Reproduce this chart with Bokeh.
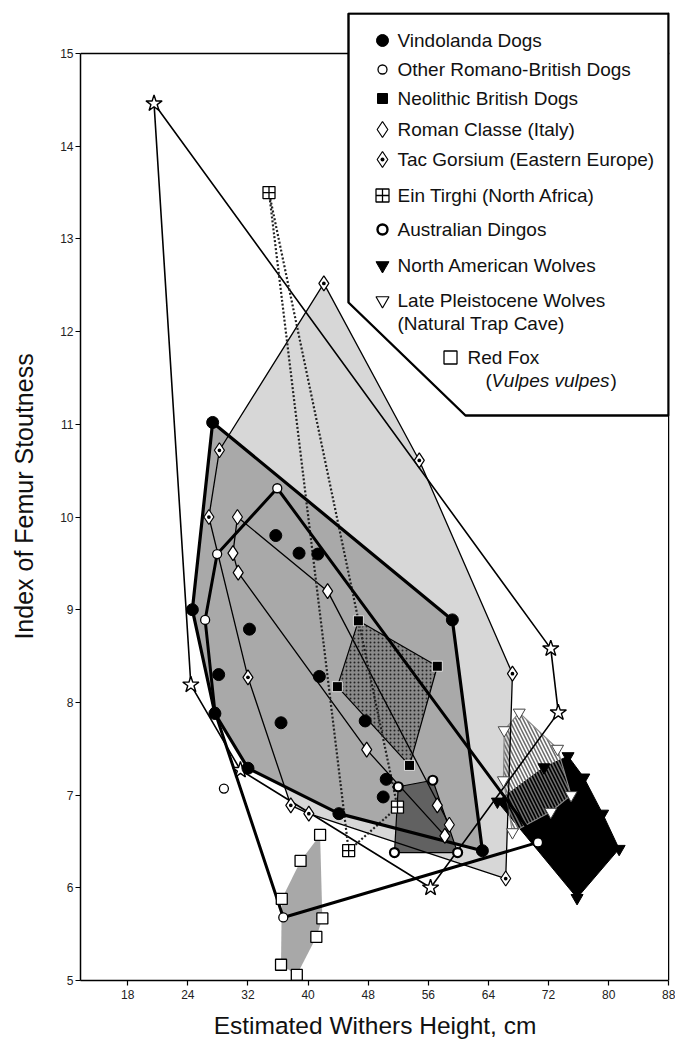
import numpy as np
from bokeh.plotting import figure
from bokeh.models import FixedTicker, Span, Range1d
from bokeh.core.properties import value
from bokeh.embed import file_html
from bokeh.resources import INLINE

# ---------------- data ----------------
vindolanda_x = [27.3, 24.6, 28.1, 27.6, 32.0, 44.1, 63.2, 59.2, 35.7, 38.8, 41.3, 32.2, 41.5, 36.4, 47.6, 50.4, 50.0]
vindolanda_y = [11.02, 9.00, 8.30, 7.88, 7.29, 6.80, 6.40, 8.89, 9.80, 9.61, 9.60, 8.79, 8.28, 7.78, 7.80, 7.17, 6.98]

other_rb_x = [35.9, 27.9, 26.3, 27.6, 36.7, 70.6]
other_rb_y = [10.31, 9.60, 8.89, 7.90, 5.68, 6.49]
other_rb_extra_x = [28.8]
other_rb_extra_y = [7.07]

neolithic_x = [46.7, 57.2, 53.5, 43.9]
neolithic_y = [8.88, 8.39, 7.32, 8.17]

roman_classe_x = [30.6, 30.0, 30.7, 42.6, 47.8, 57.2, 58.8, 58.2]
roman_classe_y = [10.00, 9.61, 9.40, 9.20, 7.49, 6.89, 6.68, 6.56]

tac_x = [28.2, 42.1, 54.8, 67.2, 66.3, 40.1, 37.7, 32.0, 26.8]
tac_y = [10.72, 12.52, 10.61, 8.31, 6.10, 6.80, 6.89, 8.27, 10.00]

ein_x = [34.8, 51.9, 45.4]
ein_y = [13.50, 6.87, 6.40]

dingo_x = [52.0, 56.6, 59.9, 51.5]
dingo_y = [7.09, 7.16, 6.38, 6.38]

na_x = [65.2, 71.4, 74.6, 76.7, 79.2, 81.4, 75.8]
na_y = [6.93, 7.30, 7.42, 7.19, 6.80, 6.42, 5.89]

lp_x = [68.1, 66.1, 66.0, 73.2, 75.0, 72.3, 67.2]
lp_y = [7.89, 7.70, 7.16, 7.50, 7.00, 6.82, 6.60]

fox_x = [41.6, 39.0, 36.5, 41.9, 41.1, 36.4, 38.5]
fox_y = [6.57, 6.29, 5.88, 5.67, 5.47, 5.17, 5.06]

star_x = [19.5, 24.4, 31.0, 56.3, 73.3, 72.3]
star_y = [14.46, 8.19, 7.27, 6.00, 7.89, 8.58]

x_ticks = [16, 24, 32, 40, 48, 56, 64, 72, 80, 88]
x_tick_labels = ["18", "24", "32", "40", "48", "56", "64", "72", "80", "88"]
y_ticks = [5, 6, 7, 8, 9, 10, 11, 12, 13, 14, 15]

legend_labels = ["Vindolanda Dogs", "Other Romano-British Dogs", "Neolithic British Dogs",
                 "Roman Classe (Italy)", "Tac Gorsium (Eastern Europe)", "Ein Tirghi (North Africa)",
                 "Australian Dingos", "North American Wolves", "Late Pleistocene Wolves"]

# ---------------- layout ----------------
OFF = 0  # observed page offset of the figure
W, H = 675, 1042
FL, FR, FT, FB = 80, 669, 12, 980
MBL, MBR, MBT, MBB = FL - OFF, OFF + W - FR, FT - OFF, OFF + H - FB
PX_PER_X = 7.514
X1 = 88.1
X0 = X1 - (FR - FL) / PX_PER_X
Y0 = 5.0
Y1 = Y0 + (FB - FT) / 92.7


def sx(px):
    return X0 + (px - FL) * (X1 - X0) / (FR - FL)


def sy(py):
    return Y0 + (FB - py) * (Y1 - Y0) / (FB - FT)


def hull(xs, ys):
    pts = sorted(set(zip(xs, ys)))

    def cross(o, a, b):
        return (a[0] - o[0]) * (b[1] - o[1]) - (a[1] - o[1]) * (b[0] - o[0])
    lower, upper = [], []
    for q in pts:
        while len(lower) >= 2 and cross(lower[-2], lower[-1], q) <= 0:
            lower.pop()
        lower.append(q)
    for q in reversed(pts):
        while len(upper) >= 2 and cross(upper[-2], upper[-1], q) <= 0:
            upper.pop()
        upper.append(q)
    h = lower[:-1] + upper[:-1]
    return [q[0] for q in h], [q[1] for q in h]


p = figure(width=W, height=H, x_range=Range1d(X0, X1), y_range=Range1d(Y0, Y1),
           output_backend="svg", toolbar_location=None,
           min_border_left=MBL, min_border_right=MBR, min_border_top=MBT, min_border_bottom=MBB,
           outline_line_color=None, background_fill_color="white", border_fill_color="white")
p.grid.visible = False

# axes
p.xaxis.ticker = FixedTicker(ticks=x_ticks)
p.xaxis.major_label_overrides = {t: l for t, l in zip(x_ticks, x_tick_labels)}
p.yaxis.ticker = FixedTicker(ticks=y_ticks)
p.yaxis.bounds = (5, 15)
p.xaxis.bounds = (X0, 88)
for ax in (p.xaxis[0], p.yaxis[0]):
    ax.axis_line_color = "black"
    ax.axis_line_width = 1.5
    ax.major_tick_line_color = "black"
    ax.major_tick_line_width = 1.2
    ax.major_tick_in = 0
    ax.major_tick_out = 5
    ax.minor_tick_line_color = None
    ax.major_label_text_font = "Liberation Sans"
    ax.major_label_text_font_size = "12px"
    ax.major_label_text_color = "#222222"
    ax.axis_label_text_font = "Liberation Sans"
    ax.axis_label_text_font_style = "normal"
    ax.axis_label_text_color = "#111111"
p.xaxis.axis_label = "Estimated Withers Height, cm"
p.yaxis.axis_label = "Index of Femur Stoutness"
p.xaxis.axis_label_text_font_size = "24.5px"
p.yaxis.axis_label_text_font_size = "25px"
p.xaxis.major_label_standoff = 4
p.yaxis.major_label_standoff = 2
p.xaxis.axis_label_standoff = 10
p.yaxis.axis_label_standoff = 19

# frame lines (top and right)
p.add_layout(Span(location=15, dimension="width", line_color="black", line_width=1.5, level="underlay"))
p.add_layout(Span(location=88, dimension="height", line_color="black", line_width=1.5, level="underlay"))

# ---------------- fills ----------------
tx, ty = hull(tac_x, tac_y)
p.patch(tx, ty, fill_color="#d7d7d7", line_color=None)
vx, vy = hull(vindolanda_x, vindolanda_y)
p.patch(vx, vy, fill_color="#a9a9a9", line_color=None)
fx, fy = hull(fox_x, fox_y)
p.patch(fx, fy, fill_color="#a8a8a8", line_color=None)
dx, dy = hull(dingo_x, dingo_y)
p.patch(dx, dy, fill_color="#616161", line_color="black", line_width=1.2)
nx, ny = hull(neolithic_x, neolithic_y)
p.patch(nx, ny, fill_color="#8a8a8a", hatch_pattern="dot", hatch_color="#222222",
        hatch_scale=4, hatch_weight=1.2, line_color="black", line_width=1.2)
wx, wy = hull(na_x, na_y)
p.patch(wx, wy, fill_color="black", line_color="black", line_width=1)
lx, ly = hull(lp_x, lp_y)
p.patch(lx, ly, fill_alpha=0, hatch_pattern="\\", hatch_color="#6e6e6e",
        hatch_scale=7, hatch_weight=1.6, line_color="#8a8a8a", line_width=1.2)

# ---------------- outlines ----------------
rx, ry = hull(roman_classe_x, roman_classe_y)
p.patch(rx, ry, fill_alpha=0, line_color="black", line_width=1.3)
p.patch(tx, ty, fill_alpha=0, line_color="black", line_width=1.3)
stx, sty = hull(star_x, star_y)
p.patch(stx, sty, fill_alpha=0, line_color="black", line_width=1.6)
ex, ey = hull(ein_x, ein_y)
p.patch(ex, ey, fill_alpha=0, line_color="#222222", line_width=2.2, line_dash="2 2")
ox, oy = hull(other_rb_x, other_rb_y)
p.patch(ox, oy, fill_alpha=0, line_color="black", line_width=3)
p.patch(vx, vy, fill_alpha=0, line_color="black", line_width=3.2)

# ---------------- markers ----------------
p.scatter(fox_x, fox_y, marker="square", size=11, fill_color="white", line_color="black", line_width=1.3)
p.scatter(star_x, star_y, marker="star", size=17, fill_color="white", line_color="black", line_width=1.4)
p.scatter(tac_x, tac_y, marker="diamond_dot", size=15, fill_color="white", line_color="black", line_width=1.2)
p.scatter(roman_classe_x, roman_classe_y, marker="diamond", size=15, fill_color="white", line_color="black", line_width=1.2)
p.scatter(other_rb_x + other_rb_extra_x, other_rb_y + other_rb_extra_y, marker="circle", size=9,
          fill_color="white", line_color="black", line_width=1.3)
p.scatter(dingo_x, dingo_y, marker="circle", size=9, fill_color="white", line_color="black", line_width=2.2)
p.scatter(ein_x, ein_y, marker="square_cross", size=12, fill_color="white", line_color="black", line_width=1.3)
p.scatter(neolithic_x, neolithic_y, marker="square", size=10, fill_color="black", line_color="white", line_width=0.8)
p.scatter(vindolanda_x, vindolanda_y, marker="circle", size=12, fill_color="black", line_color="black")
p.scatter(lp_x, lp_y, marker="inverted_triangle", size=12, fill_color="white", line_color="#444444", line_width=1)
p.scatter(na_x, na_y, marker="inverted_triangle", size=12, fill_color="black", line_color="black")

# ---------------- legend box ----------------
box_px = [348, 668, 668, 465, 348]
box_py = [13, 13, 415, 415, 302]
p.patch([sx(v) for v in box_px], [sy(v) for v in box_py], fill_color="white",
        line_color="black", line_width=2.4)

row_py = [40, 69, 98, 129, 159, 195, 229, 265, 300]
mk_x = sx(382)
txt_x = sx(397)
leg_markers = [("circle", 12, "black", "black", 1),
               ("circle", 9, "white", "black", 1.3),
               ("square", 10, "black", "black", 1),
               ("diamond", 16, "white", "black", 1.2),
               ("diamond_dot", 16, "white", "black", 1.2),
               ("square_cross", 13, "white", "black", 1.3),
               ("circle", 10, "white", "black", 2.4),
               ("inverted_triangle", 13, "black", "black", 1),
               ("inverted_triangle", 13, "white", "black", 1.2)]
for (m, s, fc, lc, lw), py in zip(leg_markers, row_py):
    p.scatter([mk_x], [sy(py)], marker=m, size=s, fill_color=fc, line_color=lc, line_width=lw)

font = value("Liberation Sans")
p.text([txt_x] * len(row_py), [sy(v) for v in row_py], text=legend_labels, text_font=font,
       text_font_size="19px", text_baseline="middle", text_align="left", text_color="#111111")
p.text([txt_x], [sy(323)], text=["(Natural Trap Cave)"], text_font=font, text_font_size="19px",
       text_baseline="middle", text_align="left", text_color="#111111")
p.scatter([sx(450)], [sy(357)], marker="square", size=13, fill_color="white", line_color="black", line_width=1.3)
p.text([sx(467)], [sy(357)], text=["Red Fox"], text_font=font, text_font_size="19px",
       text_baseline="middle", text_align="left", text_color="#111111")
p.text([sx(485)], [sy(380)], text=["("], text_font=font, text_font_size="19px",
       text_baseline="middle", text_align="left", text_color="#111111")
p.text([sx(491)], [sy(380)], text=["Vulpes vulpes"], text_font=font, text_font_size="19px",
       text_font_style="italic", text_baseline="middle", text_align="left", text_color="#111111")
p.text([sx(610)], [sy(380)], text=[")"], text_font=font, text_font_size="19px",
       text_baseline="middle", text_align="left", text_color="#111111")

open("out.html", "w").write(file_html(p, INLINE))
